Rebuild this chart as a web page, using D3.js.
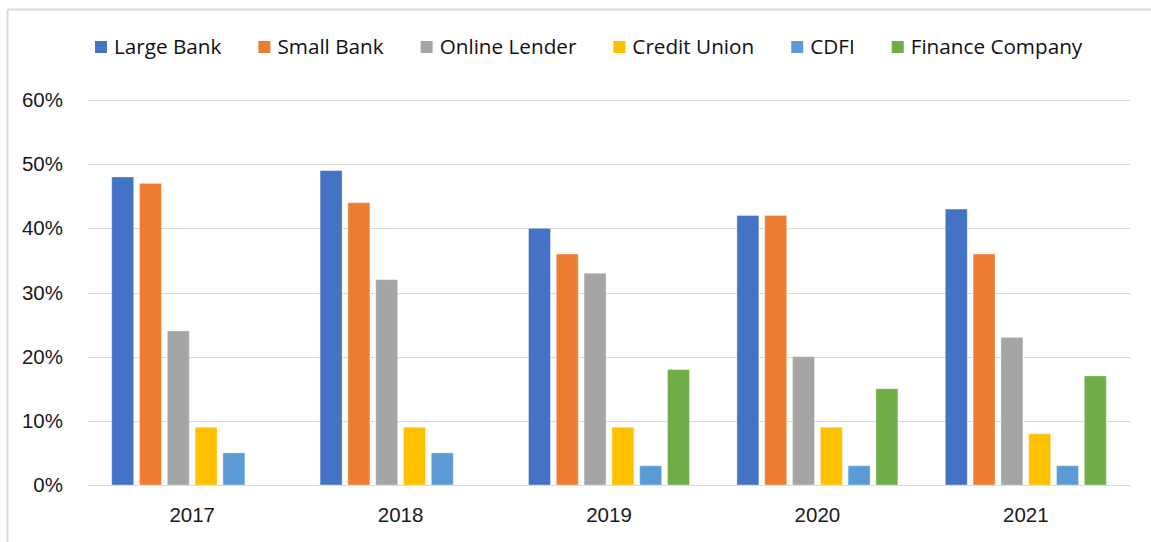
<!DOCTYPE html>
<meta charset="utf-8">
<style>
body { margin: 0; background: #fff; font-family: "Open Sans", sans-serif; }
.grid line { stroke: #d9d9d9; stroke-width: 1; shape-rendering: crispEdges; }
.axis text { font-size: 20.5px; fill: #1a1a1a; }
.legend text { font-size: 20.7px; fill: #111; }
</style>
<body>
<div id="svg"></div>
<script src="https://d3js.org/d3.v7.min.js"></script>
<script>

// data
var years = ["2017", "2018", "2019", "2020", "2021"];
var seriesNames = ["Large Bank", "Small Bank", "Online Lender", "Credit Union", "CDFI", "Finance Company"];
var largeBank      = [48, 49, 40, 42, 43];
var smallBank      = [47, 44, 36, 42, 36];
var onlineLender   = [24, 32, 33, 20, 23];
var creditUnion    = [9, 9, 9, 9, 8];
var cdfi           = [5, 5, 3, 3, 3];
var financeCompany = [null, null, 18, 15, 17];
var yTicks = [0, 10, 20, 30, 40, 50, 60];

var colors = ["#4472C4", "#ED7D31", "#A5A5A5", "#FFC000", "#5B9BD5", "#70AD47"];
var seriesValues = [largeBank, smallBank, onlineLender, creditUnion, cdfi, financeCompany];

var W = 1151, H = 542;
var margin = {top: 100, right: 21, bottom: 57, left: 88},
    width = W - margin.left - margin.right,
    height = H - margin.top - margin.bottom;

var root = d3.select("#svg").append("svg")
    .attr("width", W)
    .attr("height", H);

// outer frame (top and left edges visible)
root.append("line").attr("x1", 7.5).attr("x2", W).attr("y1", 9.5).attr("y2", 9.5)
    .attr("stroke", "#d9d9d9").attr("stroke-width", 2);
root.append("line").attr("x1", 7.5).attr("x2", 7.5).attr("y1", 9.5).attr("y2", H)
    .attr("stroke", "#d9d9d9").attr("stroke-width", 2);

var svg = root.append("g")
    .attr("transform", "translate(" + margin.left + "," + margin.top + ")");

var x0 = d3.scaleBand().domain(years).range([0, width]);
var x1 = d3.scaleBand().domain(seriesNames).range([0, x0.bandwidth()])
    .paddingInner(0.21).paddingOuter(0.853);
var y = d3.scaleLinear().domain([0, 60]).range([height, 0]);

// gridlines
svg.append("g").attr("class", "grid")
  .selectAll("line").data(yTicks).enter().append("line")
    .attr("x1", 0).attr("x2", width)
    .attr("y1", function(d) { return Math.round(y(d)) + 0.5; })
    .attr("y2", function(d) { return Math.round(y(d)) + 0.5; });

// y axis labels
var yAxis = svg.append("g").attr("class", "axis")
    .attr("transform", "translate(-22,0)")
    .call(d3.axisLeft(y).tickValues(yTicks).tickSize(0).tickFormat(function(d) { return d + "%"; }));
yAxis.select(".domain").remove();

// bars
var rows = [];
years.forEach(function(yr, i) {
  seriesNames.forEach(function(s, j) {
    if (seriesValues[j][i] != null) rows.push({year: yr, series: s, value: seriesValues[j][i], color: colors[j]});
  });
});

svg.append("g").selectAll("rect").data(rows).enter().append("rect")
    .attr("x", function(d) { return x0(d.year) + x1(d.series); })
    .attr("y", function(d) { return y(d.value); })
    .attr("width", x1.bandwidth())
    .attr("height", function(d) { return height - y(d.value); })
    .attr("fill", function(d) { return d.color; })
    .attr("stroke", "#fff").attr("stroke-opacity", 0.35).attr("stroke-width", 1);

// x axis labels
var xAxis = svg.append("g").attr("class", "axis")
    .attr("transform", "translate(0," + (height + 19) + ")")
    .call(d3.axisBottom(x0).tickSize(0));
xAxis.select(".domain").remove();

// legend
var legend = root.append("g").attr("class", "legend").attr("transform", "translate(95,47)");
var lx = 0;
seriesNames.forEach(function(s, j) {
  var g = legend.append("g").attr("transform", "translate(" + lx + ",0)");
  g.append("rect").attr("x", 0).attr("y", -6).attr("width", 12).attr("height", 12).attr("fill", colors[j]);
  var t = g.append("text").attr("x", 19).attr("dy", "0.35em").text(s);
  lx += 19 + t.node().getComputedTextLength() + 37;
});

</script>
</body>
